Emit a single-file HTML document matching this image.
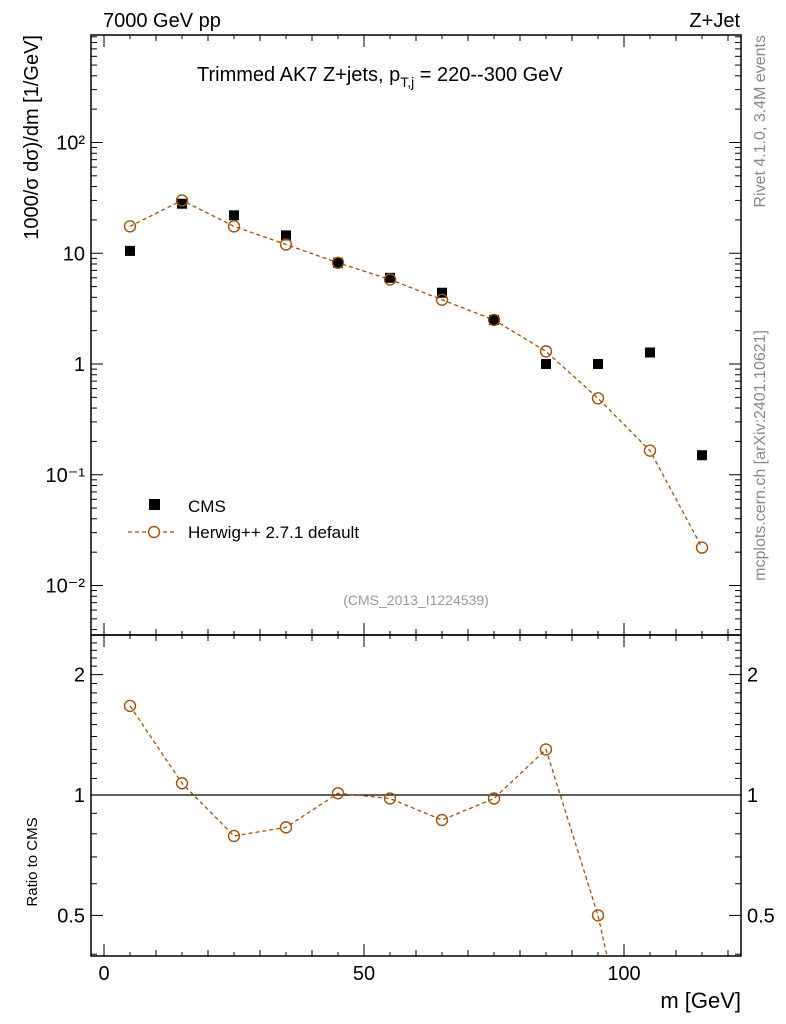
<!DOCTYPE html>
<html><head><meta charset="utf-8"><style>
html,body{margin:0;background:#fff;overflow:hidden;width:786px;height:1024px;}
svg{display:block;font-family:"Liberation Sans",sans-serif;}
</style></head><body>
<svg id="c" width="786" height="1024"></svg>
<script>
const xs=[5,15,25,35,45,55,65,75,85,95,105,115];
const cmsVals=[10.5,28,22,14.5,8.2,6.0,4.4,2.5,1.0,1.0,1.27,0.15];
const herwigVals=[17.5,30,17.5,12,8.2,5.8,3.8,2.5,1.3,0.49,0.165,0.022];
const ratioVals=[1.67,1.07,0.79,0.83,1.01,0.98,0.866,0.98,1.3,0.50,0.13,0.147];
const xTickLabels=[0,50,100];
const yTickLabels=["10\u207B\u00B2","10\u207B\u00B9","1","10","10\u00B2"];
const ratioTickVals=[0.5,1,2];

const NS="http://www.w3.org/2000/svg";
const svg=document.getElementById('c');
function el(t,a,p){const e=document.createElementNS(NS,t);for(const k in a)e.setAttribute(k,a[k]);(p||svg).appendChild(e);return e;}
const L=91,R=741,T=35,M=635,B=956;
const X=v=>104+(v)*5.2;
const Y=v=>364-Math.log10(v)*110.75;
const RY=v=>795-Math.log10(v)*400;
const BRN="#a0520a";

const defs=el('defs',{});
const cp1=el('clipPath',{id:'cm'},defs);el('rect',{x:L,y:T,width:R-L,height:M-T},cp1);
const cp2=el('clipPath',{id:'cr'},defs);el('rect',{x:L,y:M,width:R-L,height:B-M},cp2);

let f=el('rect',{x:L,y:T,width:R-L,height:M-T,fill:'none',stroke:'#000','stroke-width':1.5});

f=el('rect',{x:L,y:M,width:R-L,height:B-M,fill:'none',stroke:'#000','stroke-width':1.5});


for(let v=0;v<=120;v+=5){
  const x=X(v);const big=v%50===0;const len=big?12:(v%10===0?6:4);
  for(const [y0,d] of [[T,1],[M,-1],[M,1],[B,-1]]){
    el('line',{x1:x,x2:x,y1:y0,y2:y0+d*len,stroke:'#000','stroke-width':1});
  }
}
xTickLabels.forEach(v=>{const t=el('text',{x:X(v),y:980,'font-size':20,'text-anchor':'middle'});t.textContent=v;
});

for(let e=-3;e<=2;e++){for(let m=1;m<10;m++){const v=m*Math.pow(10,e);const y=Y(v);if(y<T||y>M)continue;
  const len=m===1?12:6;
  el('line',{x1:L,x2:L+len,y1:y,y2:y,stroke:'#000'});el('line',{x1:R,x2:R-len,y1:y,y2:y,stroke:'#000'});}}
yTickLabels.forEach((s,i)=>{const v=Math.pow(10,i-2);const t=el('text',{x:L-6,y:Y(v)+7,'font-size':20,'text-anchor':'end'});t.textContent=s;
});

for(let v=0.4;v<=2.5;v+=0.1){const y=RY(v);if(y<M||y>B)continue;const big=[0.5,1,2].some(u=>Math.abs(u-v)<1e-6);const len=big?12:6;
  el('line',{x1:L,x2:L+len,y1:y,y2:y,stroke:'#000'});el('line',{x1:R,x2:R-len,y1:y,y2:y,stroke:'#000'});}
ratioTickVals.forEach(v=>{
  let t=el('text',{x:L-6,y:RY(v)+7,'font-size':20,'text-anchor':'end'});t.textContent=v;
  
  t=el('text',{x:R+6,y:RY(v)+7,'font-size':20,'text-anchor':'start'});t.textContent=v;
  });
el('line',{x1:L,x2:R,y1:RY(1),y2:RY(1),stroke:'#000','stroke-width':1.2});

const gm=el('g',{'clip-path':'url(#cm)'});
let p=el('polyline',{points:xs.map((x,i)=>X(x)+','+Y(herwigVals[i])).join(' '),fill:'none',stroke:BRN,'stroke-width':1.3,'stroke-dasharray':'4,3'},gm);

cmsVals.forEach((v,i)=>{const r=el('rect',{x:X(xs[i])-5,y:Y(v)-5,width:10,height:10,fill:'#000'},gm);
});
herwigVals.forEach((v,i)=>{const c=el('circle',{cx:X(xs[i]),cy:Y(v),r:5.5,fill:'none',stroke:BRN,'stroke-width':1.4},gm);
});

const gr=el('g',{'clip-path':'url(#cr)'});
p=el('polyline',{points:xs.map((x,i)=>X(x)+','+RY(ratioVals[i])).join(' '),fill:'none',stroke:BRN,'stroke-width':1.3,'stroke-dasharray':'4,3'},gr);

ratioVals.forEach((v,i)=>{const c=el('circle',{cx:X(xs[i]),cy:RY(v),r:5.5,fill:'none',stroke:BRN,'stroke-width':1.4},gr);
});

let r=el('rect',{x:149,y:499,width:11,height:11,fill:'#000'});
let t=el('text',{x:188,y:512,'font-size':17});t.textContent='CMS';
el('line',{x1:128,x2:177,y1:532,y2:532,stroke:BRN,'stroke-dasharray':'4,3','stroke-width':1.3});
el('circle',{cx:154,cy:532,r:5.5,fill:'#fff',stroke:BRN,'stroke-width':1.4});
t=el('text',{x:188,y:538,'font-size':17});t.textContent='Herwig++ 2.7.1 default';

function txt(s,a,name){const t=el('text',a);t.textContent=s;return t;}
txt('7000 GeV pp',{x:103,y:27,'font-size':20},'beam-label');
txt('Z+Jet',{x:740,y:27,'font-size':20,'text-anchor':'end'},'process-label');
t=el('text',{x:197,y:81,'font-size':20});
t.innerHTML='Trimmed AK7 Z+jets, p<tspan dy="6" font-size="14">T,j</tspan><tspan dy="-6"> = 220--300 GeV</tspan>';
txt('(CMS_2013_I1224539)',{x:416,y:605,'font-size':14,fill:'#999','text-anchor':'middle'},'analysis-id');
txt('m [GeV]',{x:741,y:1008,'font-size':22,'text-anchor':'end'},'x-axis-title');
txt('1000/\u03C3   d\u03C3)/dm [1/GeV]',{x:0,y:0,'font-size':20,'text-anchor':'end',transform:'translate(38,35) rotate(-90)'},'y-axis-title');
txt('Ratio to CMS',{x:0,y:0,'font-size':15,'text-anchor':'middle',transform:'translate(37,862) rotate(-90)'},'ratio-axis-title');
txt('Rivet 4.1.0,  3.4M events',{x:0,y:0,'font-size':16,fill:'#888','text-anchor':'end',transform:'translate(765,35) rotate(-90)'},'rivet-label');
txt('mcplots.cern.ch [arXiv:2401.10621]',{x:0,y:0,'font-size':16,fill:'#888','text-anchor':'end',transform:'translate(765,330) rotate(-90)'},'mcplots-label');
</script>
</body></html>
